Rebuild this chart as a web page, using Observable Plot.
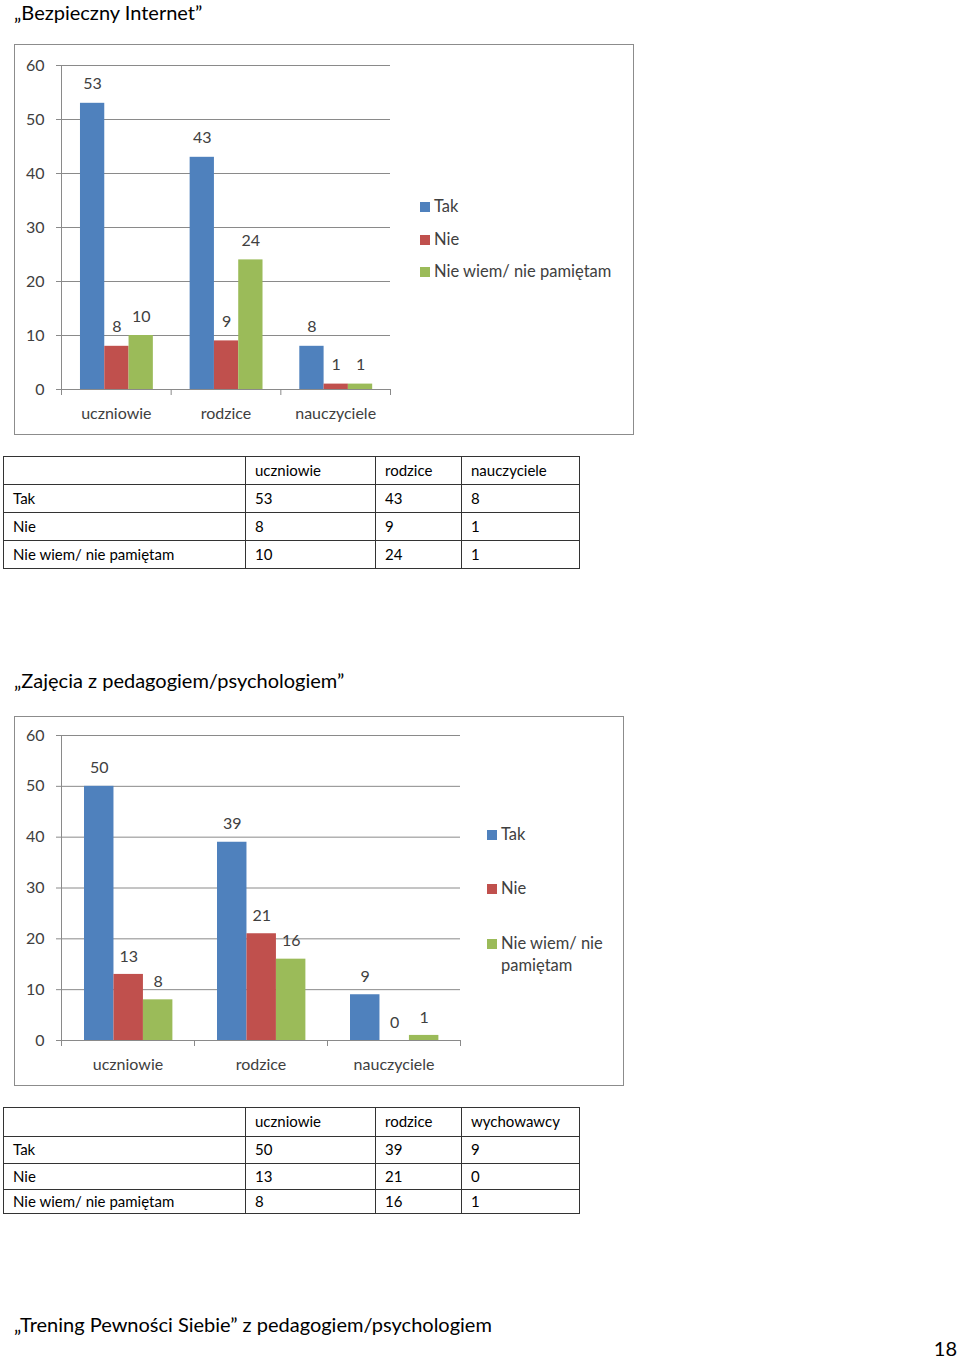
<!DOCTYPE html>
<html>
<head>
<meta charset="utf-8">
<script src="https://cdn.jsdelivr.net/npm/d3@7"></script>
<script src="https://cdn.jsdelivr.net/npm/@observablehq/plot@0.6"></script>
<style>
  html, body { margin: 0; padding: 0; background: #fff; }
  #page { position: relative; width: 960px; height: 1359px; font-family: Lato, "Open Sans", sans-serif; color: #000; overflow: hidden; }
  .title { position: absolute; font-size: 20px; line-height: 20px; white-space: nowrap; }
  .box { position: absolute; border: 1.5px solid #8c8c8c; box-sizing: border-box; background: #fff; }
  .plot { position: absolute; }
  .legend { position: absolute; font-size: 16.5px; color: #404040; line-height: 22px; white-space: nowrap; }
  .legend .sw { display: inline-block; width: 10px; height: 10px; margin-right: 4px; vertical-align: 0px; }
  table.data { position: absolute; border-collapse: collapse; font-size: 15px; }
  table.data td { border: 1px solid #333; padding: 0 0 2px 9px; vertical-align: middle; box-sizing: border-box; }
</style>
</head>
<body>
<div id="page"></div>
<script>
// ---------- data ----------
const categories = ["uczniowie", "rodzice", "nauczyciele"];
const seriesNames = ["Tak", "Nie", "Nie wiem/ nie pamiętam"];
const seriesColors = ["#4F81BD", "#C0504D", "#9BBB59"];
const yTicks = [0, 10, 20, 30, 40, 50, 60];

// Chart 1: „Bezpieczny Internet”
const tak1 = [53, 43, 8];
const nie1 = [8, 9, 1];
const nieWiem1 = [10, 24, 1];
const tableHeader1 = ["uczniowie", "rodzice", "nauczyciele"];

// Chart 2: „Zajęcia z pedagogiem/psychologiem”
const tak2 = [50, 39, 9];
const nie2 = [13, 21, 0];
const nieWiem2 = [8, 16, 1];
const tableHeader2 = ["uczniowie", "rodzice", "wychowawcy"];

const page = document.getElementById("page");

function el(tag, cls, style, text) {
  const e = document.createElement(tag);
  if (cls) e.className = cls;
  Object.assign(e.style, style || {});
  if (text != null) e.textContent = text;
  page.appendChild(e);
  return e;
}

function buildRows(seriesValues) {
  const rows = [];
  seriesValues.forEach((vals, si) => {
    vals.forEach((v, gi) => rows.push({cat: categories[gi], gi, series: seriesNames[si], si, value: v}));
  });
  return rows;
}

function drawChart(opts) {
  const rows = buildRows(opts.values);
  const off = 0.173, bw = 0.2215;
  const x1 = d => d.gi + off + d.si * bw;
  const xc = d => d.gi + off + (d.si + 0.5) * bw;
  const chart = Plot.plot({
    width: opts.width,
    height: opts.height,
    marginLeft: opts.marginLeft,
    marginRight: opts.marginRight,
    marginTop: opts.marginTop,
    marginBottom: opts.marginBottom,
    style: {fontFamily: "Lato, 'Open Sans', sans-serif", fontSize: "16px", color: "#404040", background: "transparent", overflow: "visible"},
    x: {type: "linear", domain: [0, 3], axis: null},
    y: {domain: [0, 60], axis: null},
    color: {domain: seriesNames, range: seriesColors},
    marks: [
      Plot.gridY(yTicks, {stroke: "#8a8a8a", strokeOpacity: 1}),
      Plot.axisY({ticks: yTicks, label: null, tickSize: 5, tickPadding: 12, stroke: "#8a8a8a", fontSize: 16, fill: "#404040"}),
      Plot.ruleX([0], {stroke: "#8a8a8a"}),
      Plot.rectY(rows, {x1: x1, x2: d => x1(d) + bw, y1: 0, y2: "value", fill: "series"}),
      Plot.ruleY([0], {stroke: "#8a8a8a"}),
      Plot.axisX({ticks: [0, 1, 2, 3], label: null, tickFormat: () => "", tickSize: 6, stroke: "#8a8a8a"}),
      Plot.axisX({ticks: [0.5, 1.5, 2.5], label: null, tickFormat: v => categories[Math.floor(v)], tickSize: 0, tickPadding: 18, fontSize: 16, fill: "#404040"}),
      Plot.text(rows, {x: xc, y: "value", text: d => String(d.value), dy: opts.labelDy, fontSize: 16, fill: "#404040"})
    ]
  });
  chart.classList.add("plot");
  chart.style.left = opts.left + "px";
  chart.style.top = opts.top + "px";
  page.appendChild(chart);
}

function drawLegend(left, tops, labels) {
  labels.forEach((lab, i) => {
    const d = el("div", "legend", {left: left + "px", top: tops[i] + "px"});
    const sw = document.createElement("span");
    sw.className = "sw";
    sw.style.background = seriesColors[i];
    d.appendChild(sw);
    const t = document.createElement("span");
    t.innerHTML = lab;
    d.appendChild(t);
  });
}

function drawTable(left, top, header, values, colWidths, rowHeights) {
  const t = document.createElement("table");
  t.className = "data";
  t.style.left = left + "px";
  t.style.top = top + "px";
  const rowsData = [["", ...header]].concat(seriesNames.map((s, i) => [s, ...values[i].map(String)]));
  rowsData.forEach((r, ri) => {
    const tr = document.createElement("tr");
    tr.style.height = rowHeights[ri] + "px";
    r.forEach((c, ci) => {
      const td = document.createElement("td");
      td.style.width = colWidths[ci] + "px";
      td.textContent = c;
      tr.appendChild(td);
    });
    t.appendChild(tr);
  });
  page.appendChild(t);
}

// ---------- Section 1 ----------
el("div", "title", {left: "14px", top: "0px", lineHeight: "24px"}, "„Bezpieczny Internet”");
el("div", "box", {left: "14px", top: "44px", width: "620px", height: "391px"});
drawChart({values: [tak1, nie1, nieWiem1], left: 14, top: 44, width: 620, height: 390,
  marginLeft: 47, marginRight: 244, marginTop: 21, marginBottom: 45, labelDy: -19});
drawLegend(420, [195, 228, 260], seriesNames);
drawTable(3, 456, tableHeader1, [tak1, nie1, nieWiem1], [242, 130, 86, 118], [28, 28, 28, 28]);

// ---------- Section 2 ----------
el("div", "title", {left: "14px", top: "670px"}, "„Zajęcia z pedagogiem/psychologiem”");
el("div", "box", {left: "14px", top: "716px", width: "610px", height: "370px"});
drawChart({values: [tak2, nie2, nieWiem2], left: 14, top: 716, width: 610, height: 370,
  marginLeft: 47, marginRight: 164, marginTop: 19, marginBottom: 46, labelDy: -18});
drawLegend(487, [823, 877, 932], ["Tak", "Nie", "Nie wiem/ nie<br><span style='padding-left:14px'>pamiętam</span>"]);
drawTable(3, 1107, tableHeader2, [tak2, nie2, nieWiem2], [242, 130, 86, 118], [29, 27, 26, 24]);

// ---------- Section 3 ----------
el("div", "title", {left: "14px", top: "1314px"}, "„Trening Pewności Siebie” z pedagogiem/psychologiem");
el("div", "title", {right: "3px", top: "1338px"}, "18");
</script>
</body>
</html>
